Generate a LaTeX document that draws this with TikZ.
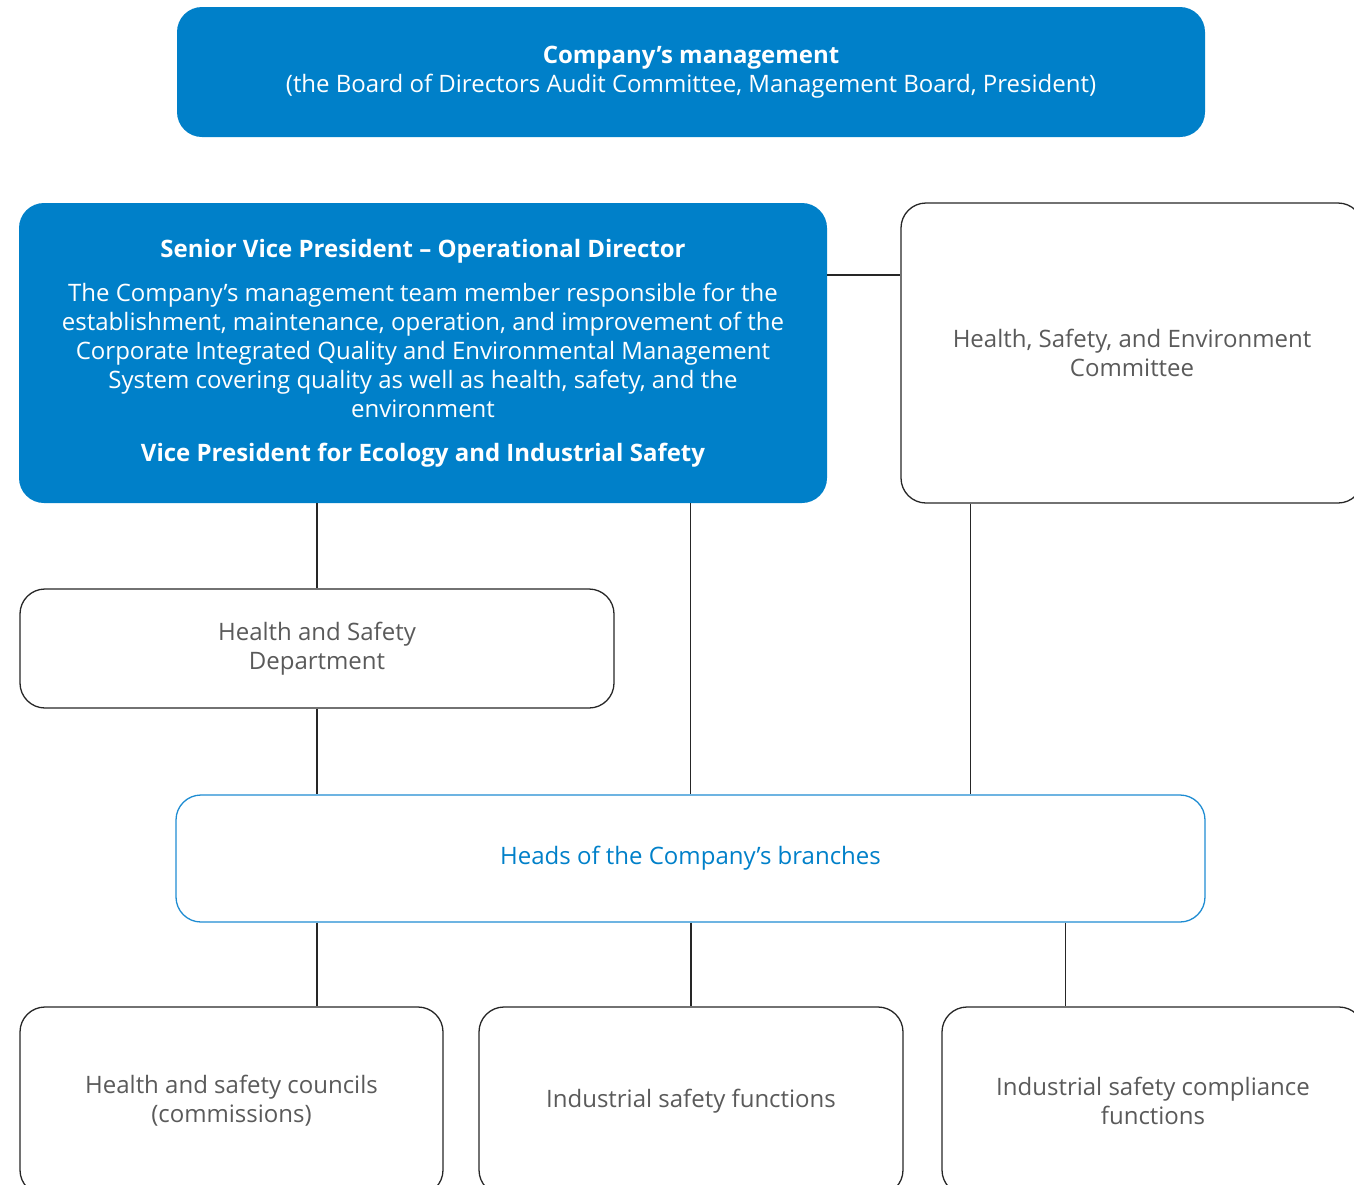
\documentclass[tikz,border=0pt]{standalone}
\usepackage{fontspec}
\setmainfont{Open Sans}
\usepackage{xcolor}
\definecolor{corpblue}{RGB}{0,128,201}
\definecolor{lineblue}{RGB}{30,140,210}
\definecolor{txtgray}{RGB}{90,90,90}
\begin{document}
\begin{tikzpicture}[x=0.5pt,y=0.5pt,
  every node/.style={font=\fontsize{12}{14.5}\selectfont},
  bluebox/.style={fill=corpblue,rounded corners=12.5pt,text=white,align=center,inner sep=0pt},
  whitebox/.style={draw=black!85,line width=0.65pt,rounded corners=12.5pt,text=txtgray,align=center,inner sep=0pt},
  link/.style={draw=black!85,line width=0.65pt}]
\useasboundingbox(0,0)rectangle(1354,-1184);
\node[bluebox,minimum width=514pt,minimum height=65pt](mgmt)at(691,-72)
  {\textbf{Company’s management}\\(the Board of Directors Audit Committee, Management Board, President)};
\node[bluebox,minimum width=404pt,minimum height=150pt](svp)at(423,-353)
  {\textbf{Senior Vice President – Operational Director}\\[7.5pt]
  The Company’s management team member responsible for the\\
  establishment, maintenance, operation, and improvement of the\\
  Corporate Integrated Quality and Environmental Management\\
  System covering quality as well as health, safety, and the\\
  environment\\[7.5pt]
  \textbf{Vice President for Ecology and Industrial Safety}};
\node[whitebox,minimum width=231pt,minimum height=150pt](hse)at(1132,-353)
  {Health, Safety, and Environment\\Committee};
\node[whitebox,minimum width=297pt,minimum height=59.5pt](hsd)at(317,-648.5)
  {Health and Safety\\Department};
\node[whitebox,draw=lineblue,text=corpblue,minimum width=514.5pt,minimum height=63.5pt](heads)at(690.5,-858.5)
  {Heads of the Company’s branches};
\node[whitebox,minimum width=211.5pt,minimum height=94pt](councils)at(231.5,-1101)
  {Health and safety councils\\(commissions)};
\node[whitebox,minimum width=212pt,minimum height=94pt](indsafe)at(691,-1101)
  {Industrial safety functions};
\node[whitebox,minimum width=211pt,minimum height=94pt](compl)at(1153,-1101)
  {Industrial safety compliance\\functions};
% connectors
\draw[link](svp.east|-0,-275)--(hse.west|-0,-275);
\draw[link](svp.south-|hsd.north)--(hsd.north);
\draw[link](hsd.south)--(hsd.south|-heads.north);
\draw[link](svp.south-|heads.north)--(heads.north);
\draw[link]([xshift=35pt]hse.south west)--([xshift=35pt]hse.south west|-heads.north);
\draw[link](hsd.south|-heads.south)--(hsd.south|-councils.north);
\draw[link](heads.south-|indsafe.north)--(indsafe.north);
\draw[link]([xshift=62pt]compl.north west|-heads.south)--([xshift=62pt]compl.north west);
\end{tikzpicture}
\end{document}
